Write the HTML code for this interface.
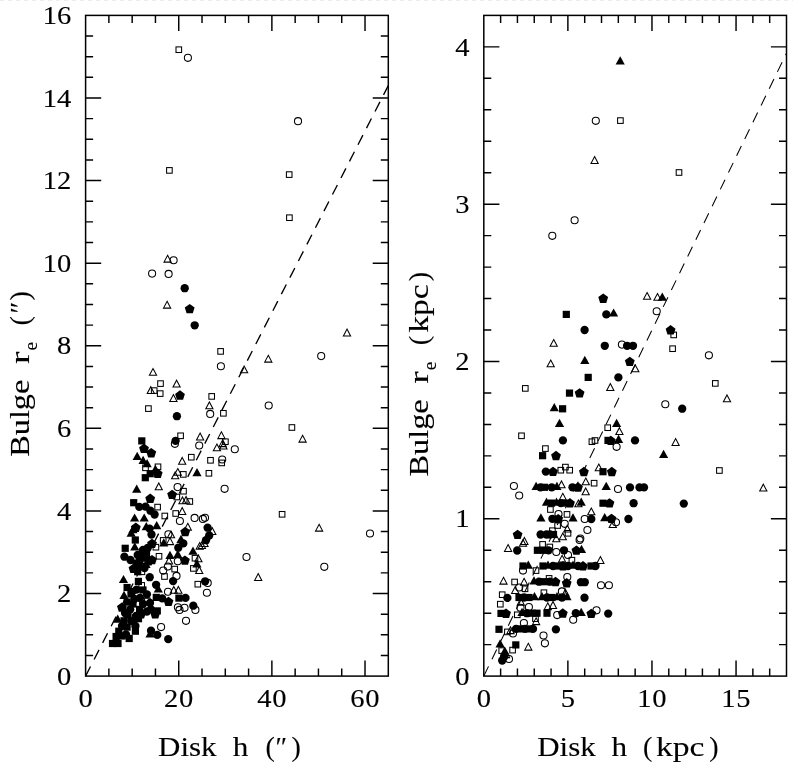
<!DOCTYPE html>
<html><head><meta charset="utf-8"><title>Bulge vs Disk</title>
<style>html,body{margin:0;padding:0;background:#fff}svg{display:block;will-change:transform}</style></head>
<body>
<svg width="793" height="768" viewBox="0 0 793 768">
<rect width="793" height="768" fill="#fff"/>
<line x1="0" y1="0.5" x2="793" y2="0.5" stroke="#ededed" stroke-width="1" stroke-dasharray="4 4"/>
<style>
.o{fill:none;stroke:#000;stroke-width:1.05}
.f{fill:#000;stroke:none}
.ax{fill:none;stroke:#000;stroke-width:1.5}
.tk{stroke:#000;stroke-width:1.45;fill:none}
.dl{stroke:#000;stroke-width:1.35;fill:none;stroke-dasharray:10.8 7.86}
.dr{stroke:#000;stroke-width:1.05;fill:none;stroke-dasharray:10.8 7.86}
text{font-family:"Liberation Serif",serif;fill:#000;stroke:#000;stroke-width:0.12}
.tl{font-size:25.5px}
.al{font-size:29px}
</style>
<line class="dl" x1="85.6" y1="676.1" x2="388.3" y2="85.60"/>
<line class="dr" x1="483.8" y1="676.1" x2="786.5" y2="53.15"/>
<g>
<rect x="176.0" y="46.9" width="5.6" height="5.6" class="o"/>
<circle cx="187.9" cy="57.8" r="3.55" class="o"/>
<circle cx="298.0" cy="121.2" r="3.55" class="o"/>
<rect x="286.4" y="171.8" width="5.6" height="5.6" class="o"/>
<rect x="286.6" y="214.9" width="5.6" height="5.6" class="o"/>
<rect x="166.6" y="167.6" width="5.6" height="5.6" class="o"/>
<path d="M167.6 255.3L171.2 262.1L164.0 262.1Z" class="o"/>
<circle cx="173.6" cy="260.2" r="3.55" class="o"/>
<circle cx="152.1" cy="273.6" r="3.55" class="o"/>
<circle cx="168.6" cy="273.9" r="3.55" class="o"/>
<circle cx="184.7" cy="288.2" r="4.15" class="f"/>
<path d="M167.1 301.3L170.7 308.1L163.5 308.1Z" class="o"/>
<polygon points="189.7,303.9 194.6,307.5 192.8,313.3 186.6,313.3 184.8,307.5" class="f"/>
<circle cx="194.7" cy="325.3" r="4.15" class="f"/>
<path d="M347.0 329.1L350.6 335.9L343.4 335.9Z" class="o"/>
<circle cx="321.2" cy="356.1" r="3.55" class="o"/>
<path d="M268.3 355.3L271.9 362.1L264.7 362.1Z" class="o"/>
<path d="M244.1 366.0L247.7 372.8L240.5 372.8Z" class="o"/>
<circle cx="268.7" cy="405.5" r="3.55" class="o"/>
<rect x="289.1" y="424.7" width="5.6" height="5.6" class="o"/>
<path d="M302.6 435.3L306.2 442.1L299.0 442.1Z" class="o"/>
<circle cx="234.8" cy="449.2" r="3.55" class="o"/>
<circle cx="224.6" cy="488.8" r="3.55" class="o"/>
<rect x="279.3" y="511.5" width="5.6" height="5.6" class="o"/>
<path d="M319.1 524.3L322.7 531.1L315.5 531.1Z" class="o"/>
<circle cx="370.0" cy="533.5" r="3.55" class="o"/>
<circle cx="246.5" cy="557.0" r="3.55" class="o"/>
<circle cx="324.3" cy="566.8" r="3.55" class="o"/>
<path d="M258.2 573.6L261.8 580.4L254.6 580.4Z" class="o"/>
<rect x="217.8" y="348.6" width="5.6" height="5.6" class="o"/>
<circle cx="220.9" cy="366.2" r="3.55" class="o"/>
<path d="M153.0 368.5L156.6 375.3L149.4 375.3Z" class="o"/>
<rect x="157.7" y="380.8" width="5.6" height="5.6" class="o"/>
<path d="M176.6 380.2L180.2 387.0L173.0 387.0Z" class="o"/>
<path d="M150.8 386.7L154.4 393.5L147.2 393.5Z" class="o"/>
<rect x="151.4" y="387.8" width="5.6" height="5.6" class="o"/>
<rect x="157.4" y="390.8" width="5.6" height="5.6" class="o"/>
<polygon points="180.0,390.3 184.9,393.9 183.1,399.7 176.9,399.7 175.1,393.9" class="f"/>
<path d="M173.4 394.6L177.0 401.4L169.8 401.4Z" class="o"/>
<rect x="208.9" y="393.6" width="5.6" height="5.6" class="o"/>
<path d="M209.4 401.9L213.0 408.7L205.8 408.7Z" class="o"/>
<rect x="145.6" y="405.8" width="5.6" height="5.6" class="o"/>
<circle cx="210.2" cy="413.9" r="3.55" class="o"/>
<rect x="220.6" y="410.5" width="5.6" height="5.6" class="o"/>
<circle cx="176.9" cy="416.2" r="4.15" class="f"/>
<rect x="177.8" y="433.0" width="5.6" height="5.6" class="o"/>
<path d="M200.1 433.1L203.7 439.9L196.5 439.9Z" class="o"/>
<path d="M221.4 431.8L225.0 438.6L217.8 438.6Z" class="o"/>
<rect x="138.2" y="437.3" width="7.2" height="7.2" class="f"/>
<circle cx="175.6" cy="440.8" r="4.15" class="f"/>
<circle cx="174.9" cy="443.8" r="3.55" class="o"/>
<rect x="222.6" y="438.9" width="5.6" height="5.6" class="o"/>
<circle cx="199.2" cy="445.5" r="3.55" class="o"/>
<path d="M223.4 442.1L227.0 448.9L219.8 448.9Z" class="o"/>
<path d="M222.7 439.8L226.3 446.6L219.1 446.6Z" class="o"/>
<path d="M216.9 444.0L220.5 450.8L213.3 450.8Z" class="o"/>
<polygon points="144.0,443.6 148.9,447.2 147.1,453.0 140.9,453.0 139.1,447.2" class="f"/>
<polygon points="151.2,448.0 156.2,451.6 154.3,457.4 148.2,457.4 146.3,451.6" class="f"/>
<path d="M137.2 451.7L141.8 459.9L132.6 459.9Z" class="f"/>
<path d="M143.1 455.8L147.7 464.0L138.5 464.0Z" class="f"/>
<path d="M147.1 459.0L151.7 467.2L142.5 467.2Z" class="f"/>
<rect x="142.7" y="465.0" width="5.6" height="5.6" class="o"/>
<rect x="155.2" y="464.0" width="5.6" height="5.6" class="o"/>
<path d="M155.4 464.7L160.0 472.9L150.8 472.9Z" class="f"/>
<polygon points="157.7,468.6 162.6,472.2 160.8,478.0 154.6,478.0 152.8,472.2" class="f"/>
<rect x="146.6" y="470.1" width="7.2" height="7.2" class="f"/>
<rect x="141.7" y="474.1" width="7.2" height="7.2" class="f"/>
<rect x="188.5" y="454.4" width="5.6" height="5.6" class="o"/>
<path d="M182.2 457.4L185.8 464.2L178.6 464.2Z" class="o"/>
<rect x="207.7" y="457.5" width="5.6" height="5.6" class="o"/>
<circle cx="222.2" cy="459.5" r="3.55" class="o"/>
<rect x="218.9" y="460.1" width="5.6" height="5.6" class="o"/>
<path d="M177.8 468.5L181.4 475.3L174.2 475.3Z" class="o"/>
<path d="M175.2 471.9L178.8 478.7L171.6 478.7Z" class="o"/>
<rect x="180.5" y="471.6" width="5.6" height="5.6" class="o"/>
<path d="M197.0 468.0L201.6 476.2L192.4 476.2Z" class="f"/>
<rect x="206.1" y="470.5" width="5.6" height="5.6" class="o"/>
<path d="M158.8 482.9L162.3 489.7L155.2 489.7Z" class="o"/>
<path d="M136.7 484.5L141.3 492.7L132.1 492.7Z" class="f"/>
<circle cx="177.6" cy="487.1" r="3.55" class="o"/>
<rect x="180.7" y="488.4" width="5.6" height="5.6" class="o"/>
<polygon points="172.1,489.7 177.0,493.3 175.2,499.1 169.0,499.1 167.2,493.3" class="f"/>
<rect x="174.0" y="494.2" width="5.6" height="5.6" class="o"/>
<polygon points="150.2,493.6 155.1,497.2 153.3,503.0 147.1,503.0 145.3,497.2" class="f"/>
<path d="M182.5 496.9L186.1 503.7L178.9 503.7Z" class="o"/>
<path d="M186.1 496.4L189.7 503.2L182.5 503.2Z" class="o"/>
<rect x="187.0" y="498.7" width="5.6" height="5.6" class="o"/>
<rect x="130.1" y="499.1" width="7.2" height="7.2" class="f"/>
<circle cx="139.3" cy="506.9" r="4.15" class="f"/>
<circle cx="145.5" cy="506.6" r="4.15" class="f"/>
<circle cx="150.4" cy="510.7" r="4.15" class="f"/>
<rect x="154.8" y="504.3" width="5.6" height="5.6" class="o"/>
<path d="M182.2 507.6L185.8 514.4L178.6 514.4Z" class="o"/>
<rect x="172.9" y="510.7" width="5.6" height="5.6" class="o"/>
<rect x="162.0" y="513.2" width="5.6" height="5.6" class="o"/>
<circle cx="154.6" cy="514.5" r="4.15" class="f"/>
<circle cx="179.9" cy="521.0" r="3.55" class="o"/>
<circle cx="194.6" cy="517.9" r="3.55" class="o"/>
<circle cx="202.9" cy="518.9" r="3.55" class="o"/>
<circle cx="205.0" cy="517.8" r="3.55" class="o"/>
<path d="M134.6 513.4L139.2 521.6L130.0 521.6Z" class="f"/>
<path d="M144.2 513.4L148.8 521.6L139.6 521.6Z" class="f"/>
<polygon points="185.2,526.8 190.1,530.4 188.3,536.2 182.1,536.2 180.3,530.4" class="f"/>
<path d="M187.8 523.3L191.4 530.1L184.2 530.1Z" class="o"/>
<path d="M156.7 521.0L161.3 529.2L152.1 529.2Z" class="f"/>
<polygon points="135.8,522.6 140.7,526.2 138.9,532.0 132.7,532.0 130.9,526.2" class="f"/>
<path d="M146.3 522.1L150.9 530.3L141.7 530.3Z" class="f"/>
<circle cx="149.6" cy="528.6" r="4.15" class="f"/>
<path d="M141.5 546.8L146.1 555.0L136.9 555.0Z" class="f"/>
<path d="M131.2 528.6L135.8 536.8L126.6 536.8Z" class="f"/>
<path d="M132.9 525.0L137.5 533.2L128.3 533.2Z" class="f"/>
<circle cx="151.5" cy="534.5" r="4.15" class="f"/>
<rect x="131.7" y="536.4" width="7.2" height="7.2" class="f"/>
<circle cx="168.4" cy="534.2" r="3.55" class="o"/>
<path d="M171.0 531.0L174.6 537.8L167.4 537.8Z" class="o"/>
<rect x="160.4" y="537.6" width="5.6" height="5.6" class="o"/>
<path d="M170.0 537.8L173.6 544.6L166.4 544.6Z" class="o"/>
<path d="M163.8 538.3L168.3 546.5L159.2 546.5Z" class="f"/>
<path d="M181.0 534.8L185.6 543.0L176.4 543.0Z" class="f"/>
<circle cx="183.3" cy="543.4" r="4.15" class="f"/>
<circle cx="178.3" cy="547.7" r="4.15" class="f"/>
<rect x="121.6" y="544.7" width="7.2" height="7.2" class="f"/>
<path d="M134.8 542.3L139.4 550.5L130.2 550.5Z" class="f"/>
<polygon points="152.0,538.7 156.9,542.3 155.1,548.1 148.9,548.1 147.1,542.3" class="f"/>
<circle cx="147.8" cy="547.8" r="4.15" class="f"/>
<rect x="153.1" y="544.4" width="5.6" height="5.6" class="o"/>
<circle cx="124.4" cy="556.7" r="4.15" class="f"/>
<circle cx="137.7" cy="555.0" r="4.15" class="f"/>
<rect x="139.3" y="553.5" width="7.2" height="7.2" class="f"/>
<polygon points="152.0,554.9 156.9,558.5 155.1,564.3 148.9,564.3 147.1,558.5" class="f"/>
<rect x="156.2" y="553.5" width="5.6" height="5.6" class="o"/>
<path d="M170.0 550.8L174.6 559.0L165.4 559.0Z" class="f"/>
<path d="M177.8 549.8L182.4 558.0L173.2 558.0Z" class="f"/>
<polygon points="184.9,555.4 189.8,559.0 188.0,564.8 181.8,564.8 180.0,559.0" class="f"/>
<path d="M193.0 546.6L197.6 554.8L188.4 554.8Z" class="f"/>
<path d="M199.7 542.5L203.3 549.3L196.1 549.3Z" class="o"/>
<rect x="192.2" y="555.4" width="5.6" height="5.6" class="o"/>
<path d="M198.4 554.9L202.0 561.7L194.8 561.7Z" class="o"/>
<circle cx="177.8" cy="561.2" r="3.55" class="o"/>
<path d="M169.0 557.0L172.6 563.9L165.4 563.9Z" class="o"/>
<circle cx="167.9" cy="566.5" r="3.55" class="o"/>
<circle cx="163.2" cy="570.6" r="3.55" class="o"/>
<rect x="171.9" y="566.3" width="5.6" height="5.6" class="o"/>
<rect x="161.7" y="573.7" width="5.6" height="5.6" class="o"/>
<circle cx="176.5" cy="575.9" r="3.55" class="o"/>
<circle cx="173.1" cy="581.1" r="4.15" class="f"/>
<path d="M196.9 559.3L201.5 567.5L192.3 567.5Z" class="f"/>
<rect x="190.6" y="565.6" width="5.6" height="5.6" class="o"/>
<path d="M199.2 566.5L202.8 573.4L195.7 573.4Z" class="o"/>
<rect x="195.0" y="581.4" width="5.6" height="5.6" class="o"/>
<circle cx="136.7" cy="563.3" r="4.15" class="f"/>
<polygon points="133.5,563.6 138.4,567.2 136.6,573.0 130.4,573.0 128.6,567.2" class="f"/>
<rect x="134.1" y="568.1" width="7.2" height="7.2" class="f"/>
<rect x="139.1" y="569.0" width="5.6" height="5.6" class="o"/>
<path d="M135.6 560.2L140.2 568.4L131.0 568.4Z" class="f"/>
<circle cx="149.7" cy="577.2" r="4.15" class="f"/>
<path d="M123.5 574.9L128.1 583.1L118.9 583.1Z" class="f"/>
<rect x="134.8" y="577.8" width="7.2" height="7.2" class="f"/>
<circle cx="156.1" cy="584.8" r="4.15" class="f"/>
<circle cx="143.0" cy="550.0" r="4.15" class="f"/>
<circle cx="140.0" cy="560.0" r="4.15" class="f"/>
<path d="M146.0 559.8L150.6 568.0L141.4 568.0Z" class="f"/>
<circle cx="130.5" cy="560.0" r="4.15" class="f"/>
<rect x="142.9" y="549.9" width="7.2" height="7.2" class="f"/>
<circle cx="144.5" cy="568.0" r="4.15" class="f"/>
<polygon points="148.5,556.1 153.4,559.7 151.6,565.5 145.4,565.5 143.6,559.7" class="f"/>
<circle cx="141.0" cy="566.0" r="4.15" class="f"/>
<circle cx="207.6" cy="527.7" r="4.15" class="f"/>
<path d="M212.3 527.7L215.9 534.5L208.7 534.5Z" class="o"/>
<circle cx="209.2" cy="535.5" r="4.15" class="f"/>
<circle cx="206.0" cy="540.2" r="4.15" class="f"/>
<path d="M201.9 541.7L205.5 548.5L198.3 548.5Z" class="o"/>
<path d="M204.5 539.7L208.1 546.5L200.9 546.5Z" class="o"/>
<circle cx="205.1" cy="581.3" r="4.15" class="f"/>
<circle cx="207.7" cy="582.9" r="3.55" class="o"/>
<circle cx="206.9" cy="592.7" r="3.55" class="o"/>
<rect x="138.9" y="582.6" width="5.6" height="5.6" class="o"/>
<path d="M158.3 584.4L162.9 592.6L153.7 592.6Z" class="f"/>
<circle cx="136.5" cy="589.6" r="4.15" class="f"/>
<rect x="123.5" y="583.9" width="7.2" height="7.2" class="f"/>
<circle cx="168.0" cy="591.7" r="3.55" class="o"/>
<path d="M173.8 586.4L177.3 593.2L170.2 593.2Z" class="o"/>
<path d="M178.4 586.4L182.0 593.2L174.8 593.2Z" class="o"/>
<circle cx="146.9" cy="594.3" r="4.15" class="f"/>
<rect x="152.7" y="593.8" width="7.2" height="7.2" class="f"/>
<circle cx="162.2" cy="598.4" r="4.15" class="f"/>
<polygon points="168.5,596.7 173.4,600.3 171.6,606.1 165.4,606.1 163.6,600.3" class="f"/>
<rect x="175.3" y="594.5" width="7.2" height="7.2" class="f"/>
<circle cx="185.5" cy="597.9" r="4.15" class="f"/>
<rect x="144.6" y="598.2" width="5.6" height="5.6" class="o"/>
<rect x="123.5" y="598.5" width="7.2" height="7.2" class="f"/>
<circle cx="134.4" cy="599.0" r="4.15" class="f"/>
<polygon points="121.9,602.4 126.8,606.0 125.0,611.8 118.8,611.8 117.0,606.0" class="f"/>
<circle cx="130.2" cy="609.4" r="4.15" class="f"/>
<rect x="136.0" y="605.8" width="7.2" height="7.2" class="f"/>
<circle cx="146.9" cy="611.5" r="4.15" class="f"/>
<rect x="153.7" y="607.3" width="7.2" height="7.2" class="f"/>
<polygon points="155.2,609.2 160.1,612.8 158.3,618.6 152.1,618.6 150.3,612.8" class="f"/>
<circle cx="151.0" cy="609.4" r="4.15" class="f"/>
<circle cx="177.9" cy="607.3" r="3.55" class="o"/>
<circle cx="179.5" cy="609.9" r="3.55" class="o"/>
<circle cx="184.5" cy="607.8" r="3.55" class="o"/>
<circle cx="193.3" cy="605.7" r="4.15" class="f"/>
<circle cx="195.4" cy="609.9" r="3.55" class="o"/>
<circle cx="186.0" cy="620.8" r="3.55" class="o"/>
<path d="M117.7 614.6L122.3 622.8L113.1 622.8Z" class="f"/>
<rect x="120.4" y="617.2" width="7.2" height="7.2" class="f"/>
<circle cx="131.2" cy="620.8" r="4.15" class="f"/>
<rect x="134.9" y="615.1" width="7.2" height="7.2" class="f"/>
<circle cx="135.4" cy="626.0" r="4.15" class="f"/>
<rect x="123.5" y="623.5" width="7.2" height="7.2" class="f"/>
<rect x="115.2" y="627.6" width="7.2" height="7.2" class="f"/>
<rect x="131.8" y="627.6" width="7.2" height="7.2" class="f"/>
<circle cx="126.0" cy="634.4" r="4.15" class="f"/>
<rect x="125.6" y="634.9" width="7.2" height="7.2" class="f"/>
<rect x="112.5" y="632.9" width="7.2" height="7.2" class="f"/>
<rect x="108.9" y="639.9" width="7.2" height="7.2" class="f"/>
<rect x="114.4" y="639.9" width="7.2" height="7.2" class="f"/>
<circle cx="161.1" cy="627.1" r="3.55" class="o"/>
<circle cx="151.0" cy="630.7" r="4.15" class="f"/>
<path d="M150.0 629.2L154.6 637.4L145.4 637.4Z" class="f"/>
<circle cx="157.3" cy="634.9" r="4.15" class="f"/>
<circle cx="168.2" cy="639.1" r="4.15" class="f"/>
<rect x="127.4" y="590.4" width="7.2" height="7.2" class="f"/>
<circle cx="140.0" cy="598.0" r="4.15" class="f"/>
<rect x="129.4" y="600.4" width="7.2" height="7.2" class="f"/>
<circle cx="125.0" cy="613.0" r="4.15" class="f"/>
<rect x="124.4" y="611.4" width="7.2" height="7.2" class="f"/>
<circle cx="143.0" cy="604.0" r="4.15" class="f"/>
<polygon points="141.0,609.1 145.9,612.7 144.1,618.5 137.9,618.5 136.1,612.7" class="f"/>
<circle cx="122.0" cy="626.0" r="4.15" class="f"/>
<rect x="118.4" y="632.4" width="7.2" height="7.2" class="f"/>
<circle cx="132.0" cy="592.0" r="4.15" class="f"/>
<path d="M124.0 590.8L128.6 599.0L119.4 599.0Z" class="f"/>
<rect x="139.4" y="586.4" width="7.2" height="7.2" class="f"/>
<circle cx="150.0" cy="603.0" r="4.15" class="f"/>
<circle cx="136.0" cy="616.0" r="4.15" class="f"/>
</g><g>
<path d="M620.2 56.3L624.8 64.5L615.6 64.5Z" class="f"/>
<circle cx="595.8" cy="120.8" r="3.55" class="o"/>
<rect x="617.6" y="117.8" width="5.6" height="5.6" class="o"/>
<path d="M594.6 156.6L598.2 163.4L591.0 163.4Z" class="o"/>
<rect x="676.2" y="169.7" width="5.6" height="5.6" class="o"/>
<circle cx="574.6" cy="220.2" r="3.55" class="o"/>
<circle cx="552.3" cy="235.8" r="3.55" class="o"/>
<polygon points="603.2,293.5 608.1,297.1 606.3,302.9 600.1,302.9 598.3,297.1" class="f"/>
<rect x="562.7" y="310.8" width="7.2" height="7.2" class="f"/>
<circle cx="606.3" cy="314.4" r="4.15" class="f"/>
<path d="M613.6 308.4L618.2 316.6L609.0 316.6Z" class="f"/>
<circle cx="584.6" cy="330.0" r="4.15" class="f"/>
<path d="M553.7 339.5L557.3 346.3L550.1 346.3Z" class="o"/>
<circle cx="604.8" cy="345.8" r="4.15" class="f"/>
<circle cx="621.9" cy="344.6" r="3.55" class="o"/>
<circle cx="627.1" cy="345.8" r="4.15" class="f"/>
<circle cx="633.0" cy="345.8" r="4.15" class="f"/>
<path d="M647.1 292.5L650.7 299.3L643.5 299.3Z" class="o"/>
<path d="M657.5 293.5L661.1 300.3L653.9 300.3Z" class="o"/>
<path d="M662.3 292.5L666.9 300.7L657.7 300.7Z" class="f"/>
<circle cx="656.7" cy="311.2" r="3.55" class="o"/>
<polygon points="670.6,325.1 675.5,328.7 673.7,334.5 667.5,334.5 665.7,328.7" class="f"/>
<rect x="670.9" y="332.1" width="5.6" height="5.6" class="o"/>
<rect x="669.8" y="345.9" width="5.6" height="5.6" class="o"/>
<path d="M550.7 360.0L554.3 366.8L547.1 366.8Z" class="o"/>
<path d="M584.8 355.7L589.4 363.9L580.2 363.9Z" class="f"/>
<rect x="584.6" y="373.8" width="7.2" height="7.2" class="f"/>
<rect x="522.5" y="385.6" width="5.6" height="5.6" class="o"/>
<rect x="565.9" y="389.5" width="7.2" height="7.2" class="f"/>
<polygon points="579.6,388.2 584.5,391.8 582.7,397.6 576.5,397.6 574.7,391.8" class="f"/>
<path d="M554.3 403.0L558.9 411.2L549.7 411.2Z" class="f"/>
<rect x="559.0" y="405.2" width="7.2" height="7.2" class="f"/>
<path d="M559.5 418.7L564.1 426.9L554.9 426.9Z" class="f"/>
<rect x="518.7" y="433.0" width="5.6" height="5.6" class="o"/>
<circle cx="562.9" cy="440.4" r="4.15" class="f"/>
<rect x="589.1" y="438.9" width="5.6" height="5.6" class="o"/>
<rect x="592.2" y="437.7" width="5.6" height="5.6" class="o"/>
<rect x="542.6" y="445.8" width="5.6" height="5.6" class="o"/>
<rect x="539.0" y="452.1" width="7.2" height="7.2" class="f"/>
<polygon points="556.0,450.8 560.9,454.4 559.1,460.2 552.9,460.2 551.1,454.4" class="f"/>
<circle cx="708.9" cy="355.3" r="3.55" class="o"/>
<polygon points="629.8,356.7 634.7,360.3 632.9,366.1 626.7,366.1 624.9,360.3" class="f"/>
<path d="M635.3 364.9L638.9 371.7L631.7 371.7Z" class="o"/>
<circle cx="618.4" cy="377.4" r="4.15" class="f"/>
<path d="M610.3 383.6L613.9 390.4L606.7 390.4Z" class="o"/>
<circle cx="665.3" cy="404.2" r="3.55" class="o"/>
<circle cx="682.2" cy="408.7" r="4.15" class="f"/>
<path d="M616.6 418.7L621.2 426.9L612.0 426.9Z" class="f"/>
<rect x="604.9" y="424.9" width="5.6" height="5.6" class="o"/>
<path d="M619.4 427.7L623.0 434.5L615.8 434.5Z" class="o"/>
<rect x="604.4" y="436.8" width="7.2" height="7.2" class="f"/>
<polygon points="610.8,435.7 615.7,439.3 613.9,445.1 607.7,445.1 605.9,439.3" class="f"/>
<path d="M618.6 434.7L623.2 442.9L614.0 442.9Z" class="f"/>
<circle cx="635.0" cy="440.4" r="4.15" class="f"/>
<circle cx="616.6" cy="446.8" r="3.55" class="o"/>
<path d="M675.6 438.6L679.2 445.4L672.0 445.4Z" class="o"/>
<path d="M663.6 449.8L668.2 458.0L659.0 458.0Z" class="f"/>
<rect x="712.5" y="380.6" width="5.6" height="5.6" class="o"/>
<path d="M727.0 394.9L730.6 401.7L723.4 401.7Z" class="o"/>
<circle cx="545.8" cy="471.6" r="4.15" class="f"/>
<polygon points="553.0,466.7 557.9,470.3 556.1,476.1 549.9,476.1 548.1,470.3" class="f"/>
<rect x="558.0" y="467.4" width="5.6" height="5.6" class="o"/>
<rect x="562.6" y="464.3" width="5.6" height="5.6" class="o"/>
<rect x="566.9" y="467.4" width="5.6" height="5.6" class="o"/>
<polygon points="583.9,466.8 588.8,470.4 587.0,476.2 580.8,476.2 579.0,470.4" class="f"/>
<circle cx="513.9" cy="486.0" r="3.55" class="o"/>
<circle cx="519.2" cy="495.5" r="3.55" class="o"/>
<path d="M536.1 481.8L540.7 490.0L531.5 490.0Z" class="f"/>
<circle cx="540.5" cy="487.3" r="4.15" class="f"/>
<rect x="540.9" y="483.7" width="7.2" height="7.2" class="f"/>
<circle cx="551.7" cy="487.3" r="4.15" class="f"/>
<path d="M556.9 481.8L561.5 490.0L552.3 490.0Z" class="f"/>
<path d="M561.5 480.9L565.1 487.7L557.9 487.7Z" class="o"/>
<circle cx="572.5" cy="487.3" r="4.15" class="f"/>
<polygon points="578.0,482.3 582.9,485.9 581.1,491.7 574.9,491.7 573.1,485.9" class="f"/>
<path d="M585.7 487.9L589.3 494.7L582.1 494.7Z" class="o"/>
<path d="M546.5 497.6L551.1 505.8L541.9 505.8Z" class="f"/>
<rect x="547.9" y="499.5" width="7.2" height="7.2" class="f"/>
<path d="M556.5 497.6L561.1 505.8L551.9 505.8Z" class="f"/>
<circle cx="560.8" cy="503.1" r="4.15" class="f"/>
<rect x="561.9" y="499.5" width="7.2" height="7.2" class="f"/>
<polygon points="570.0,498.2 574.9,501.8 573.1,507.6 566.9,507.6 565.1,501.8" class="f"/>
<path d="M562.8 493.3L566.4 500.1L559.2 500.1Z" class="o"/>
<path d="M578.4 500.0L582.0 506.8L574.8 506.8Z" class="o"/>
<path d="M581.2 497.6L585.8 505.8L576.6 505.8Z" class="f"/>
<rect x="547.6" y="506.7" width="5.6" height="5.6" class="o"/>
<circle cx="558.5" cy="514.1" r="3.55" class="o"/>
<rect x="564.2" y="511.6" width="5.6" height="5.6" class="o"/>
<path d="M540.9 513.3L545.5 521.5L536.3 521.5Z" class="f"/>
<circle cx="552.4" cy="518.8" r="4.15" class="f"/>
<polygon points="558.2,513.9 563.1,517.5 561.3,523.3 555.1,523.3 553.3,517.5" class="f"/>
<path d="M573.0 513.3L577.6 521.5L568.4 521.5Z" class="f"/>
<circle cx="584.7" cy="519.0" r="3.55" class="o"/>
<circle cx="564.7" cy="523.8" r="3.55" class="o"/>
<rect x="554.8" y="522.7" width="5.6" height="5.6" class="o"/>
<rect x="549.6" y="527.9" width="5.6" height="5.6" class="o"/>
<path d="M567.3 525.2L570.9 532.0L563.7 532.0Z" class="o"/>
<rect x="565.2" y="530.5" width="5.6" height="5.6" class="o"/>
<polygon points="517.6,529.7 522.5,533.3 520.7,539.1 514.5,539.1 512.7,533.3" class="f"/>
<circle cx="540.6" cy="534.5" r="4.15" class="f"/>
<circle cx="546.5" cy="534.5" r="4.15" class="f"/>
<circle cx="550.0" cy="534.5" r="4.15" class="f"/>
<rect x="549.9" y="530.9" width="7.2" height="7.2" class="f"/>
<path d="M562.8 533.0L566.4 539.8L559.2 539.8Z" class="o"/>
<path d="M556.3 534.9L559.9 541.7L552.7 541.7Z" class="o"/>
<circle cx="580.3" cy="538.5" r="3.55" class="o"/>
<circle cx="579.6" cy="539.9" r="3.55" class="o"/>
<path d="M524.4 537.5L528.0 544.4L520.8 544.4Z" class="o"/>
<path d="M523.0 539.5L526.6 546.3L519.4 546.3Z" class="o"/>
<rect x="539.8" y="541.6" width="5.6" height="5.6" class="o"/>
<rect x="547.0" y="544.2" width="5.6" height="5.6" class="o"/>
<path d="M508.1 544.6L511.7 551.4L504.5 551.4Z" class="o"/>
<rect x="716.6" y="467.7" width="5.6" height="5.6" class="o"/>
<path d="M763.3 484.2L766.9 491.0L759.7 491.0Z" class="o"/>
<circle cx="683.8" cy="503.6" r="4.15" class="f"/>
<path d="M598.8 464.0L602.4 470.8L595.2 470.8Z" class="o"/>
<rect x="599.4" y="468.1" width="7.2" height="7.2" class="f"/>
<polygon points="611.8,466.8 616.7,470.4 614.9,476.2 608.7,476.2 606.9,470.4" class="f"/>
<path d="M585.8 478.0L589.4 484.8L582.2 484.8Z" class="o"/>
<rect x="591.3" y="480.4" width="5.6" height="5.6" class="o"/>
<path d="M606.2 481.8L610.9 490.0L601.6 490.0Z" class="f"/>
<circle cx="618.0" cy="489.0" r="3.55" class="o"/>
<circle cx="630.0" cy="487.4" r="4.15" class="f"/>
<circle cx="639.5" cy="487.4" r="4.15" class="f"/>
<circle cx="644.0" cy="487.4" r="4.15" class="f"/>
<rect x="599.4" y="499.6" width="7.2" height="7.2" class="f"/>
<polygon points="609.5,498.2 614.4,501.8 612.6,507.6 606.4,507.6 604.6,501.8" class="f"/>
<circle cx="633.6" cy="503.2" r="4.15" class="f"/>
<path d="M591.3 508.0L594.9 514.8L587.7 514.8Z" class="o"/>
<circle cx="591.3" cy="519.0" r="4.15" class="f"/>
<path d="M604.7 513.1L609.3 521.3L600.1 521.3Z" class="f"/>
<polygon points="611.5,513.7 616.4,517.3 614.6,523.1 608.4,523.1 606.6,517.3" class="f"/>
<circle cx="616.0" cy="522.2" r="3.55" class="o"/>
<path d="M612.8 520.6L616.4 527.4L609.2 527.4Z" class="o"/>
<circle cx="628.4" cy="519.0" r="4.15" class="f"/>
<circle cx="587.4" cy="530.0" r="3.55" class="o"/>
<circle cx="517.2" cy="550.5" r="4.15" class="f"/>
<rect x="533.8" y="546.7" width="7.2" height="7.2" class="f"/>
<rect x="539.4" y="546.7" width="7.2" height="7.2" class="f"/>
<circle cx="548.5" cy="550.3" r="4.15" class="f"/>
<circle cx="556.3" cy="552.0" r="3.55" class="o"/>
<circle cx="564.0" cy="550.3" r="4.15" class="f"/>
<circle cx="568.0" cy="555.0" r="3.55" class="o"/>
<polygon points="576.4,545.4 581.3,549.0 579.5,554.8 573.3,554.8 571.5,549.0" class="f"/>
<path d="M581.5 544.8L586.1 553.0L576.9 553.0Z" class="f"/>
<path d="M562.1 555.3L565.7 562.1L558.5 562.1Z" class="o"/>
<rect x="569.1" y="557.4" width="5.6" height="5.6" class="o"/>
<rect x="519.4" y="562.4" width="7.2" height="7.2" class="f"/>
<path d="M528.3 560.6L532.9 568.8L523.7 568.8Z" class="f"/>
<circle cx="523.0" cy="570.6" r="3.55" class="o"/>
<rect x="533.2" y="567.8" width="5.6" height="5.6" class="o"/>
<rect x="539.4" y="562.4" width="7.2" height="7.2" class="f"/>
<path d="M548.0 560.6L552.6 568.8L543.4 568.8Z" class="f"/>
<circle cx="553.0" cy="566.0" r="4.15" class="f"/>
<rect x="554.4" y="562.4" width="7.2" height="7.2" class="f"/>
<polygon points="563.0,561.1 567.9,564.7 566.1,570.5 559.9,570.5 558.1,564.7" class="f"/>
<circle cx="568.0" cy="566.0" r="4.15" class="f"/>
<path d="M573.0 560.6L577.6 568.8L568.4 568.8Z" class="f"/>
<circle cx="578.0" cy="566.0" r="4.15" class="f"/>
<polygon points="583.0,561.1 587.9,564.7 586.1,570.5 579.9,570.5 578.1,564.7" class="f"/>
<rect x="587.4" y="562.4" width="7.2" height="7.2" class="f"/>
<circle cx="595.5" cy="566.0" r="4.15" class="f"/>
<path d="M600.4 556.6L604.0 563.4L596.8 563.4Z" class="o"/>
<circle cx="567.3" cy="577.1" r="3.55" class="o"/>
<rect x="546.3" y="575.6" width="5.6" height="5.6" class="o"/>
<path d="M503.5 577.3L507.1 584.1L499.9 584.1Z" class="o"/>
<rect x="511.8" y="579.2" width="5.6" height="5.6" class="o"/>
<path d="M524.1 578.3L527.7 585.1L520.5 585.1Z" class="o"/>
<path d="M534.0 576.3L538.6 584.5L529.4 584.5Z" class="f"/>
<circle cx="539.0" cy="581.7" r="4.15" class="f"/>
<rect x="540.9" y="578.1" width="7.2" height="7.2" class="f"/>
<circle cx="550.0" cy="581.7" r="4.15" class="f"/>
<polygon points="555.5,576.8 560.4,580.4 558.6,586.2 552.4,586.2 550.6,580.4" class="f"/>
<polygon points="566.7,578.1 571.6,581.7 569.8,587.5 563.6,587.5 561.8,581.7" class="f"/>
<circle cx="580.9" cy="582.2" r="4.15" class="f"/>
<circle cx="584.8" cy="582.2" r="4.15" class="f"/>
<circle cx="601.0" cy="585.2" r="3.55" class="o"/>
<circle cx="608.9" cy="585.2" r="3.55" class="o"/>
<circle cx="519.2" cy="587.5" r="3.55" class="o"/>
<rect x="522.2" y="586.0" width="5.6" height="5.6" class="o"/>
<path d="M515.2 586.6L518.9 593.4L511.6 593.4Z" class="o"/>
<rect x="541.1" y="589.9" width="5.6" height="5.6" class="o"/>
<circle cx="561.9" cy="591.4" r="3.55" class="o"/>
<path d="M565.4 589.2L569.0 596.0L561.8 596.0Z" class="o"/>
<rect x="499.4" y="591.9" width="5.6" height="5.6" class="o"/>
<circle cx="507.4" cy="597.9" r="4.15" class="f"/>
<rect x="515.4" y="593.9" width="7.2" height="7.2" class="f"/>
<circle cx="524.0" cy="597.5" r="4.15" class="f"/>
<rect x="525.4" y="593.9" width="7.2" height="7.2" class="f"/>
<path d="M534.5 592.1L539.1 600.3L529.9 600.3Z" class="f"/>
<path d="M542.0 592.1L546.6 600.3L537.4 600.3Z" class="f"/>
<circle cx="547.0" cy="597.5" r="4.15" class="f"/>
<rect x="548.4" y="593.9" width="7.2" height="7.2" class="f"/>
<path d="M557.0 592.1L561.6 600.3L552.4 600.3Z" class="f"/>
<circle cx="562.0" cy="597.5" r="4.15" class="f"/>
<path d="M567.0 592.1L571.6 600.3L562.4 600.3Z" class="f"/>
<circle cx="584.5" cy="597.7" r="4.15" class="f"/>
<rect x="497.5" y="601.4" width="5.6" height="5.6" class="o"/>
<path d="M520.8 598.3L524.4 605.1L517.2 605.1Z" class="o"/>
<circle cx="520.5" cy="607.7" r="3.55" class="o"/>
<circle cx="528.9" cy="607.0" r="3.55" class="o"/>
<path d="M547.8 602.8L551.4 609.6L544.2 609.6Z" class="o"/>
<path d="M553.0 601.5L556.6 608.4L549.4 608.4Z" class="o"/>
<rect x="497.4" y="609.8" width="7.2" height="7.2" class="f"/>
<polygon points="506.0,608.5 510.9,612.1 509.1,617.9 502.9,617.9 501.1,612.1" class="f"/>
<rect x="514.5" y="612.0" width="5.6" height="5.6" class="o"/>
<path d="M522.0 607.8L526.6 616.0L517.4 616.0Z" class="f"/>
<circle cx="527.0" cy="613.2" r="4.15" class="f"/>
<rect x="528.4" y="609.6" width="7.2" height="7.2" class="f"/>
<rect x="533.4" y="609.6" width="7.2" height="7.2" class="f"/>
<rect x="543.4" y="609.6" width="7.2" height="7.2" class="f"/>
<circle cx="557.2" cy="615.1" r="3.55" class="o"/>
<polygon points="562.8,608.3 567.7,611.9 565.9,617.7 559.7,617.7 557.9,611.9" class="f"/>
<circle cx="575.8" cy="613.2" r="4.15" class="f"/>
<path d="M581.2 607.8L585.8 616.0L576.6 616.0Z" class="f"/>
<polygon points="591.3,608.7 596.2,612.3 594.4,618.1 588.2,618.1 586.4,612.3" class="f"/>
<circle cx="596.5" cy="610.3" r="3.55" class="o"/>
<circle cx="608.2" cy="613.6" r="4.15" class="f"/>
<circle cx="573.2" cy="619.7" r="3.55" class="o"/>
<rect x="532.7" y="615.9" width="5.6" height="5.6" class="o"/>
<path d="M536.1 617.8L539.7 624.6L532.5 624.6Z" class="o"/>
<circle cx="523.9" cy="623.1" r="3.55" class="o"/>
<rect x="495.4" y="625.7" width="7.2" height="7.2" class="f"/>
<rect x="504.6" y="629.1" width="5.6" height="5.6" class="o"/>
<path d="M510.5 626.8L514.1 633.6L506.9 633.6Z" class="o"/>
<circle cx="513.0" cy="633.4" r="3.55" class="o"/>
<circle cx="516.0" cy="628.9" r="4.15" class="f"/>
<rect x="516.9" y="625.3" width="7.2" height="7.2" class="f"/>
<circle cx="525.0" cy="628.9" r="4.15" class="f"/>
<rect x="525.9" y="625.3" width="7.2" height="7.2" class="f"/>
<circle cx="533.0" cy="628.9" r="4.15" class="f"/>
<circle cx="555.9" cy="629.4" r="4.15" class="f"/>
<circle cx="543.5" cy="635.5" r="3.55" class="o"/>
<circle cx="544.9" cy="643.3" r="3.55" class="o"/>
<rect x="512.2" y="641.3" width="7.2" height="7.2" class="f"/>
<path d="M500.1 639.2L504.7 647.4L495.5 647.4Z" class="f"/>
<path d="M528.3 643.3L531.9 650.1L524.7 650.1Z" class="o"/>
<rect x="509.8" y="647.3" width="5.6" height="5.6" class="o"/>
<rect x="498.9" y="647.8" width="5.6" height="5.6" class="o"/>
<path d="M504.8 646.5L509.4 654.7L500.2 654.7Z" class="f"/>
<circle cx="502.2" cy="660.5" r="4.15" class="f"/>
<circle cx="509.0" cy="659.0" r="3.55" class="o"/>
<circle cx="504.0" cy="657.0" r="4.15" class="f"/>
<path d="M506.0 650.8L509.6 657.6L502.4 657.6Z" class="o"/>
</g>
<rect class="ax" x="85.6" y="15.4" width="302.70" height="660.70"/>
<rect class="ax" x="483.8" y="15.4" width="302.70" height="660.70"/>
<path class="tk" d="M108.88 676.1v-7.5M108.88 15.4v7.5M132.17 676.1v-7.5M132.17 15.4v7.5M155.45 676.1v-7.5M155.45 15.4v7.5M178.74 676.1v-15.6M178.74 15.4v15.6M202.02 676.1v-7.5M202.02 15.4v7.5M225.31 676.1v-7.5M225.31 15.4v7.5M248.59 676.1v-7.5M248.59 15.4v7.5M271.88 676.1v-15.6M271.88 15.4v15.6M295.16 676.1v-7.5M295.16 15.4v7.5M318.45 676.1v-7.5M318.45 15.4v7.5M341.73 676.1v-7.5M341.73 15.4v7.5M365.02 676.1v-15.6M365.02 15.4v15.6M85.6 655.45h7.5M388.3 655.45h-7.5M85.6 634.81h7.5M388.3 634.81h-7.5M85.6 614.16h7.5M388.3 614.16h-7.5M85.6 593.51h15.6M388.3 593.51h-15.6M85.6 572.87h7.5M388.3 572.87h-7.5M85.6 552.22h7.5M388.3 552.22h-7.5M85.6 531.57h7.5M388.3 531.57h-7.5M85.6 510.93h15.6M388.3 510.93h-15.6M85.6 490.28h7.5M388.3 490.28h-7.5M85.6 469.63h7.5M388.3 469.63h-7.5M85.6 448.98h7.5M388.3 448.98h-7.5M85.6 428.34h15.6M388.3 428.34h-15.6M85.6 407.69h7.5M388.3 407.69h-7.5M85.6 387.04h7.5M388.3 387.04h-7.5M85.6 366.40h7.5M388.3 366.40h-7.5M85.6 345.75h15.6M388.3 345.75h-15.6M85.6 325.10h7.5M388.3 325.10h-7.5M85.6 304.46h7.5M388.3 304.46h-7.5M85.6 283.81h7.5M388.3 283.81h-7.5M85.6 263.16h15.6M388.3 263.16h-15.6M85.6 242.52h7.5M388.3 242.52h-7.5M85.6 221.87h7.5M388.3 221.87h-7.5M85.6 201.22h7.5M388.3 201.22h-7.5M85.6 180.57h15.6M388.3 180.57h-15.6M85.6 159.93h7.5M388.3 159.93h-7.5M85.6 139.28h7.5M388.3 139.28h-7.5M85.6 118.63h7.5M388.3 118.63h-7.5M85.6 97.99h15.6M388.3 97.99h-15.6M85.6 77.34h7.5M388.3 77.34h-7.5M85.6 56.69h7.5M388.3 56.69h-7.5M85.6 36.05h7.5M388.3 36.05h-7.5M500.62 676.1v-7.5M500.62 15.4v7.5M517.43 676.1v-7.5M517.43 15.4v7.5M534.25 676.1v-7.5M534.25 15.4v7.5M551.07 676.1v-7.5M551.07 15.4v7.5M567.88 676.1v-15.6M567.88 15.4v15.6M584.70 676.1v-7.5M584.70 15.4v7.5M601.52 676.1v-7.5M601.52 15.4v7.5M618.33 676.1v-7.5M618.33 15.4v7.5M635.15 676.1v-7.5M635.15 15.4v7.5M651.97 676.1v-15.6M651.97 15.4v15.6M668.78 676.1v-7.5M668.78 15.4v7.5M685.60 676.1v-7.5M685.60 15.4v7.5M702.42 676.1v-7.5M702.42 15.4v7.5M719.23 676.1v-7.5M719.23 15.4v7.5M736.05 676.1v-15.6M736.05 15.4v15.6M752.87 676.1v-7.5M752.87 15.4v7.5M769.68 676.1v-7.5M769.68 15.4v7.5M483.8 644.64h7.5M786.5 644.64h-7.5M483.8 613.18h7.5M786.5 613.18h-7.5M483.8 581.71h7.5M786.5 581.71h-7.5M483.8 550.25h7.5M786.5 550.25h-7.5M483.8 518.79h15.6M786.5 518.79h-15.6M483.8 487.33h7.5M786.5 487.33h-7.5M483.8 455.87h7.5M786.5 455.87h-7.5M483.8 424.40h7.5M786.5 424.40h-7.5M483.8 392.94h7.5M786.5 392.94h-7.5M483.8 361.48h15.6M786.5 361.48h-15.6M483.8 330.02h7.5M786.5 330.02h-7.5M483.8 298.56h7.5M786.5 298.56h-7.5M483.8 267.10h7.5M786.5 267.10h-7.5M483.8 235.63h7.5M786.5 235.63h-7.5M483.8 204.17h15.6M786.5 204.17h-15.6M483.8 172.71h7.5M786.5 172.71h-7.5M483.8 141.25h7.5M786.5 141.25h-7.5M483.8 109.79h7.5M786.5 109.79h-7.5M483.8 78.32h7.5M786.5 78.32h-7.5M483.8 46.86h15.6M786.5 46.86h-15.6"/>
<text class="tl" transform="translate(71.2 684.7) scale(1.12 1)" text-anchor="end" letter-spacing="0.0">0</text>
<text class="tl" transform="translate(71.2 602.1) scale(1.12 1)" text-anchor="end" letter-spacing="0.0">2</text>
<text class="tl" transform="translate(71.2 519.5) scale(1.12 1)" text-anchor="end" letter-spacing="0.0">4</text>
<text class="tl" transform="translate(71.2 436.9) scale(1.12 1)" text-anchor="end" letter-spacing="0.0">6</text>
<text class="tl" transform="translate(71.2 354.4) scale(1.12 1)" text-anchor="end" letter-spacing="0.0">8</text>
<text class="tl" transform="translate(71.2 271.8) scale(1.12 1)" text-anchor="end" letter-spacing="0.0">10</text>
<text class="tl" transform="translate(71.2 189.2) scale(1.12 1)" text-anchor="end" letter-spacing="0.0">12</text>
<text class="tl" transform="translate(71.2 106.6) scale(1.12 1)" text-anchor="end" letter-spacing="0.0">14</text>
<text class="tl" transform="translate(71.2 24.0) scale(1.12 1)" text-anchor="end" letter-spacing="0.0">16</text>
<text class="tl" transform="translate(469.6 684.7) scale(1.12 1)" text-anchor="end" letter-spacing="0.0">0</text>
<text class="tl" transform="translate(469.6 527.4) scale(1.12 1)" text-anchor="end" letter-spacing="0.0">1</text>
<text class="tl" transform="translate(469.6 370.1) scale(1.12 1)" text-anchor="end" letter-spacing="0.0">2</text>
<text class="tl" transform="translate(469.6 212.8) scale(1.12 1)" text-anchor="end" letter-spacing="0.0">3</text>
<text class="tl" transform="translate(469.6 55.5) scale(1.12 1)" text-anchor="end" letter-spacing="0.0">4</text>
<text class="tl" transform="translate(85.9 706.6) scale(1.12 1)" text-anchor="middle" letter-spacing="0.6">0</text>
<text class="tl" transform="translate(179.0 706.6) scale(1.12 1)" text-anchor="middle" letter-spacing="0.6">20</text>
<text class="tl" transform="translate(272.2 706.6) scale(1.12 1)" text-anchor="middle" letter-spacing="0.6">40</text>
<text class="tl" transform="translate(365.3 706.6) scale(1.12 1)" text-anchor="middle" letter-spacing="0.6">60</text>
<text class="tl" transform="translate(484.1 706.6) scale(1.12 1)" text-anchor="middle" letter-spacing="0.6">0</text>
<text class="tl" transform="translate(568.2 706.6) scale(1.12 1)" text-anchor="middle" letter-spacing="0.6">5</text>
<text class="tl" transform="translate(652.3 706.6) scale(1.12 1)" text-anchor="middle" letter-spacing="0.6">10</text>
<text class="tl" transform="translate(736.3 706.6) scale(1.12 1)" text-anchor="middle" letter-spacing="0.6">15</text>
<text x="158.10" y="756.20" font-size="28" textLength="58.5" lengthAdjust="spacingAndGlyphs">Disk</text>
<text x="232.70" y="756.20" font-size="28" textLength="15.6" lengthAdjust="spacingAndGlyphs">h</text>
<text x="265.40" y="756.20" font-size="28">(</text>
<text x="275.40" y="756.20" font-size="28">″</text>
<text x="291.40" y="756.20" font-size="28">)</text>
<text x="537.20" y="756.20" font-size="28" textLength="58.5" lengthAdjust="spacingAndGlyphs">Disk</text>
<text x="611.60" y="756.20" font-size="28" textLength="15.6" lengthAdjust="spacingAndGlyphs">h</text>
<text x="643.10" y="756.20" font-size="28">(</text>
<text x="656.00" y="756.20" font-size="28" textLength="48.5" lengthAdjust="spacingAndGlyphs">kpc</text>
<text x="709.30" y="756.20" font-size="28">)</text>
<text transform="translate(29.30 456.70) rotate(-90)" font-size="28" textLength="77.0" lengthAdjust="spacingAndGlyphs">Bulge</text>
<text transform="translate(29.30 364.10) rotate(-90)" font-size="28" textLength="12.4" lengthAdjust="spacingAndGlyphs">r</text>
<text transform="translate(37.30 350.60) rotate(-90)" font-size="19.5">e</text>
<text transform="translate(29.30 325.50) rotate(-90)" font-size="28">(</text>
<text transform="translate(29.30 313.60) rotate(-90)" font-size="28">″</text>
<text transform="translate(29.30 300.50) rotate(-90)" font-size="28">)</text>
<text transform="translate(428.00 476.40) rotate(-90)" font-size="28" textLength="77.0" lengthAdjust="spacingAndGlyphs">Bulge</text>
<text transform="translate(428.00 383.80) rotate(-90)" font-size="28" textLength="12.4" lengthAdjust="spacingAndGlyphs">r</text>
<text transform="translate(436.00 370.30) rotate(-90)" font-size="19.5">e</text>
<text transform="translate(428.00 345.20) rotate(-90)" font-size="28">(</text>
<text transform="translate(428.00 332.80) rotate(-90)" font-size="28" textLength="48.6" lengthAdjust="spacingAndGlyphs">kpc</text>
<text transform="translate(428.00 281.20) rotate(-90)" font-size="28">)</text>
</svg>
</body></html>
